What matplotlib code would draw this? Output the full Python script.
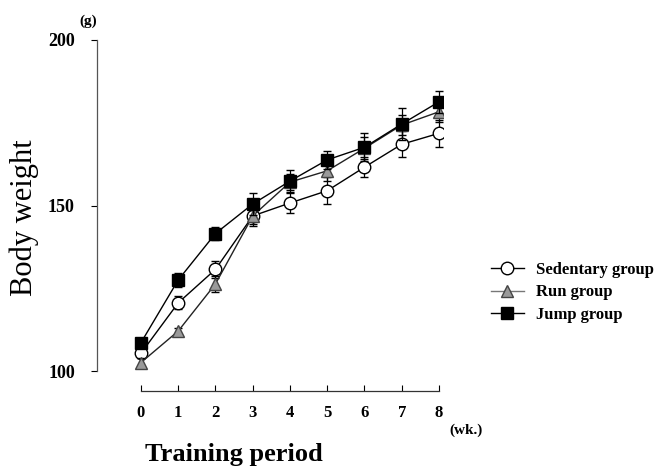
import matplotlib
matplotlib.use("Agg")
import matplotlib.pyplot as plt
from matplotlib.lines import Line2D

weeks = [0, 1, 2, 3, 4, 5, 6, 7, 8]
sedentary = [105.5, 120.7, 130.8, 146.9, 150.8, 154.5, 161.6, 168.5, 171.8]
sedentary_err = [1.5, 2.0, 2.5, 2.5, 3.0, 4.0, 3.0, 3.9, 4.0]
run = [102.7, 112.2, 126.4, 146.9, 157.1, 160.5, 167.3, 174.3, 178.3]
run_err = [1.5, 1.0, 2.3, 3.0, 2.5, 3.0, 3.3, 3.0, 3.0]
jump = [108.7, 127.6, 141.6, 150.5, 157.4, 163.8, 167.6, 174.6, 181.3]
jump_err = [1.5, 2.2, 2.0, 3.2, 3.3, 2.8, 4.2, 4.9, 3.3]
labels = ["Sedentary group", "Run group", "Jump group"]
yticks = [100, 150, 200]

serif = ["Liberation Serif", "DejaVu Serif"]

fig = plt.figure(figsize=(6.54, 4.66), dpi=100)
W, H = 654, 466
ax = fig.add_axes([97 / W, (H - 391.07) / H, (442.7 - 97) / W, (391.07 - 38.8) / H])
ax.set_xlim(-1.181, 8.1)
ax.set_ylim(94.1, 200.3)

styles = [
    dict(color="black", marker="o", ms=9, mfc="white", mec="black", mew=1.0),
    dict(color="#222222", marker="^", ms=9, mfc="#9a9a9a", mec="#444444", mew=1.0),
    dict(color="black", marker="s", ms=9, mfc="black", mec="black", mew=1.0),
]
ek = dict(capsize=3, elinewidth=0.9, capthick=0.9, ecolor="black", lw=1.0)
for i, (vals, errs) in enumerate([(sedentary, sedentary_err), (run, run_err), (jump, jump_err)]):
    ax.errorbar(weeks, vals, yerr=errs, zorder=3 + i, **styles[i], **ek)

for s in ["top", "right"]:
    ax.spines[s].set_visible(False)
ax.spines["left"].set_bounds(100, 200)
ax.spines["bottom"].set_bounds(0, 8)
ax.spines["left"].set_color("#555555")
ax.spines["bottom"].set_color("#333333")
ax.spines["left"].set_linewidth(0.9)
ax.spines["bottom"].set_linewidth(0.9)

ax.set_xticks(weeks)
ax.set_xticklabels([str(w) for w in weeks], fontfamily=serif, fontweight="bold", fontsize=12)
ax.set_yticks(yticks)
ax.set_yticklabels([str(v) for v in yticks], fontfamily=serif, fontweight="bold", fontsize=13)
ax.tick_params(axis="x", direction="in", length=4, pad=10)
ax.tick_params(axis="y", direction="out", length=4, pad=12)

fig.text(88 / W, 1 - 21 / H, "(g)", fontfamily=serif, fontweight="bold", fontsize=11,
         ha="center", va="center")
fig.text(466 / W, 1 - 430 / H, "(wk.)", fontfamily=serif, fontweight="bold", fontsize=11,
         ha="center", va="center")
fig.text(234 / W, 1 - 455 / H, "Training period", fontfamily=serif, fontweight="bold",
         fontsize=19, ha="center", va="center")
fig.text(24 / W, 1 - 218 / H, "Body weight", fontfamily=serif, fontsize=22,
         rotation=90, ha="center", va="center")

handles = [Line2D([], [], lw=1.0, **st) for st in styles]
handles[1].set_color("#777777")
fig.legend(handles, labels, loc="upper left", bbox_to_anchor=(484 / W, 1 - 255 / H),
           frameon=False, handlelength=2.0, handletextpad=0.75, labelspacing=0.4,
           prop={"family": serif, "weight": "bold", "size": 12}, borderaxespad=0)

fig.savefig("out.png", dpi=100)
